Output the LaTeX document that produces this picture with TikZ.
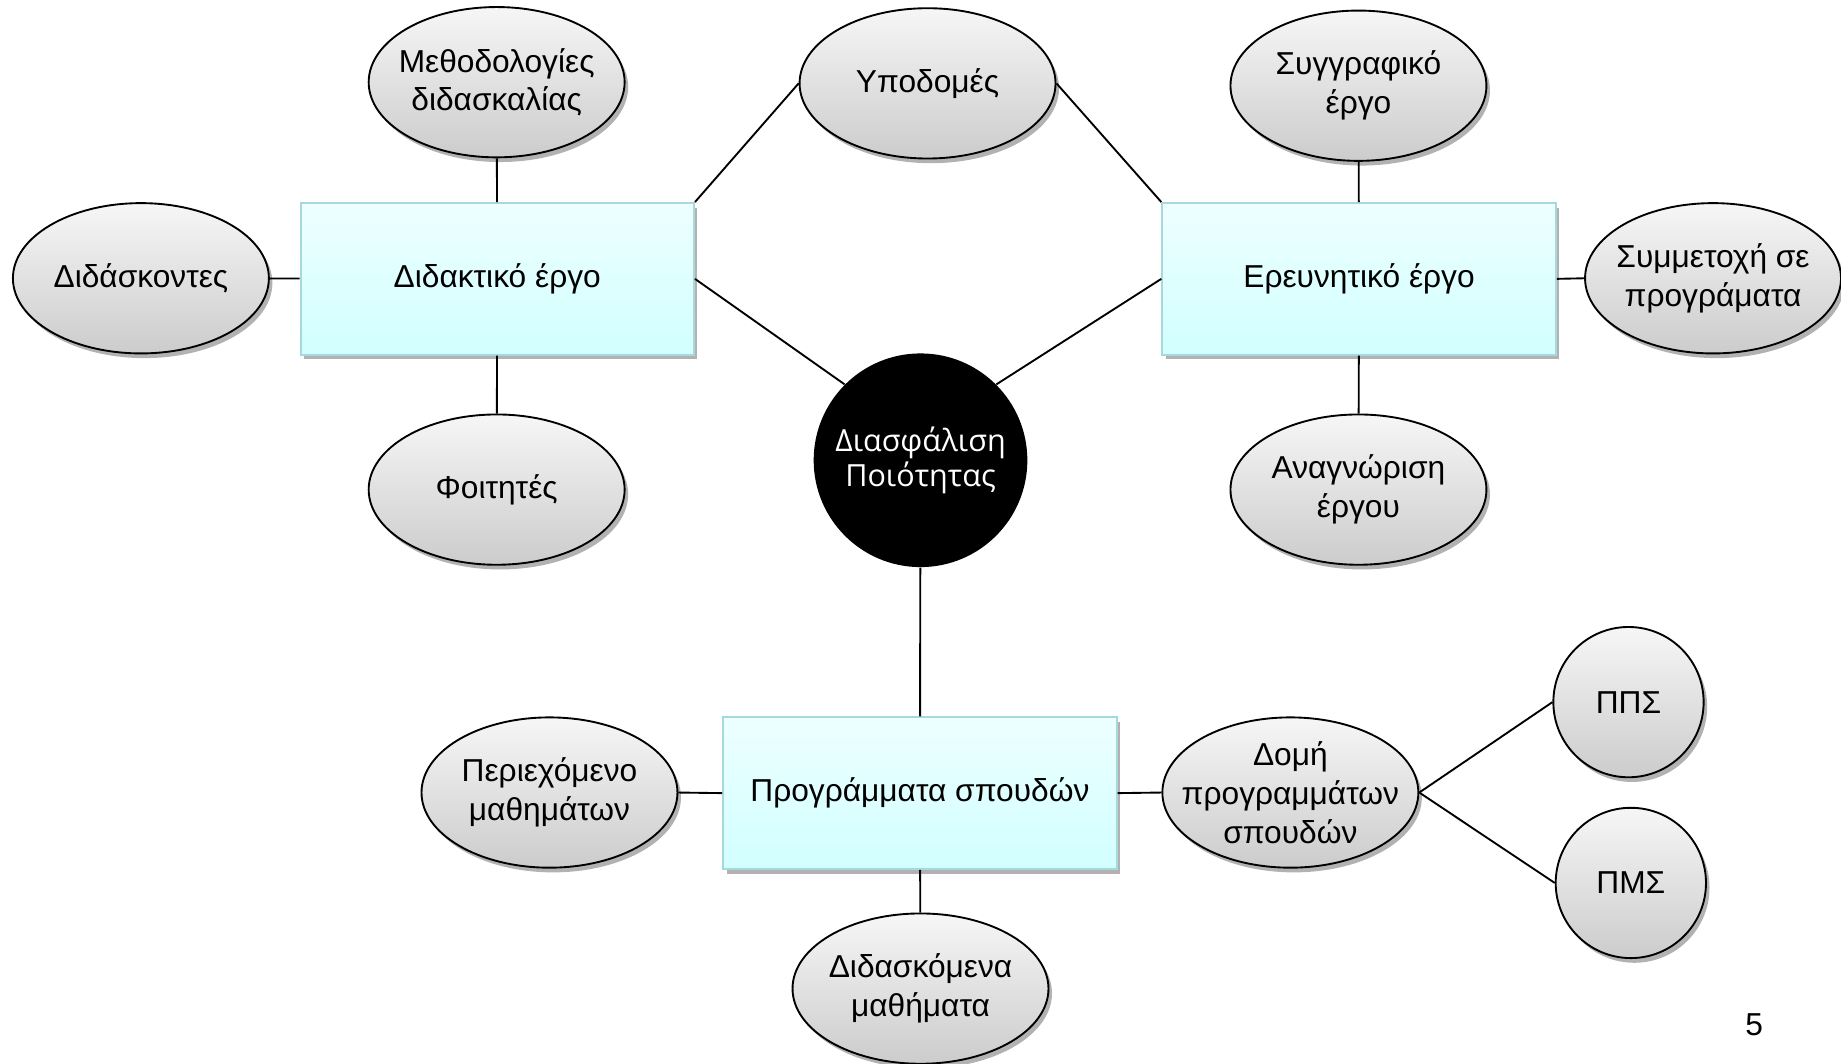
\documentclass[tikz,border=0pt]{standalone}
\usepackage{fontspec}
\setmainfont{Liberation Sans}
\newfontfamily\centerfont{Open Sans}
\usetikzlibrary{shapes.geometric,shadows}
\definecolor{rectborder}{HTML}{A6D8DC}
\tikzset{
  every node/.style={font=\fontsize{13.5}{16.5}\selectfont, align=center},
  oval/.style={ellipse, draw=black, line width=0.8pt, minimum width=109pt, minimum height=64pt,
    inner xsep=-12pt, inner ysep=-4pt,
    top color=gray!7, bottom color=gray!40,
    drop shadow={shadow xshift=1.5pt, shadow yshift=-2pt, opacity=0.3, fill=black}},
  disc/.style={circle, draw=black, line width=0.8pt, minimum size=64pt, inner sep=0pt,
    top color=gray!7, bottom color=gray!40,
    drop shadow={shadow xshift=1.5pt, shadow yshift=-2pt, opacity=0.3, fill=black}},
  box/.style={rectangle, draw=rectborder, line width=0.9pt, minimum width=167.5pt, minimum height=64.5pt, inner sep=0pt,
    top color=cyan!7, bottom color=cyan!18,
    drop shadow={shadow xshift=1.5pt, shadow yshift=-2pt, opacity=0.3, fill=black}},
  hub/.style={circle, fill=black, minimum size=91pt, inner sep=0pt, text=white,
    font=\centerfont\fontsize{13}{16.5}\selectfont},
  link/.style={draw=black, line width=0.8pt},
}
\begin{document}
\begin{tikzpicture}[x=0.5pt, y=-0.5pt]
\useasboundingbox (0,0) rectangle (1568,906);
% nodes
\node[box] (didak) at (423.5,237.5) {Διδακτικό έργο};
\node[box] (ereun) at (1157.5,237.5) {Ερευνητικό έργο};
\node[box] (progr) at (783.5,675.5) {Προγράμματα σπουδών};
\node[hub] (dp) at (784,392) {\raisebox{-1.5pt}{Διασφάλιση}\\Ποιότητας};
\node[oval] (meth) at (423,70) {Μεθοδολογίες\\διδασκαλίας};
\node[oval] (didask) at (120,237) {Διδάσκοντες};
\node[oval] (foit) at (423,417) {Φοιτητές};
\node[oval] (ypod) at (790,71) {Υποδομές};
\node[oval] (syggr) at (1157,73) {Συγγραφικό\\έργο};
\node[oval] (symm) at (1459,237) {Συμμετοχή σε\\προγράματα};
\node[oval] (anagn) at (1157,417) {Αναγνώριση\\έργου};
\node[oval] (perie) at (468,675) {Περιεχόμενο\\μαθημάτων};
\node[oval] (didm) at (784,842) {Διδασκόμενα\\μαθήματα};
\node[oval] (domi) at (1099,675) {Δομή\\προγραμμάτων\\σπουδών};
\node[disc] (pps) at (1387,598) {ΠΠΣ};
\node[disc] (pms) at (1389,752) {ΠΜΣ};
\node (page) at (1494,873) {5};
% connectors
\draw[link] (meth) -- (didak);
\draw[link] (didask) -- (didak);
\draw[link] (foit) -- (didak);
\draw[link] (didak.north east) -- (ypod.west);
\draw[link] (ypod.east) -- (ereun.north west);
\draw[link] (didak.east) -- (dp.135);
\draw[link] (ereun.west) -- (dp.45);
\draw[link] (syggr) -- (ereun);
\draw[link] (symm.west) -- (ereun.east);
\draw[link] (anagn) -- (ereun);
\draw[link] (dp) -- (progr);
\draw[link] (perie.east) -- (progr.west);
\draw[link] (didm) -- (progr);
\draw[link] (progr.east) -- (domi.west);
\draw[link] (domi.east) -- (pps.west);
\draw[link] (domi.east) -- (pms.west);
\end{tikzpicture}
\end{document}
